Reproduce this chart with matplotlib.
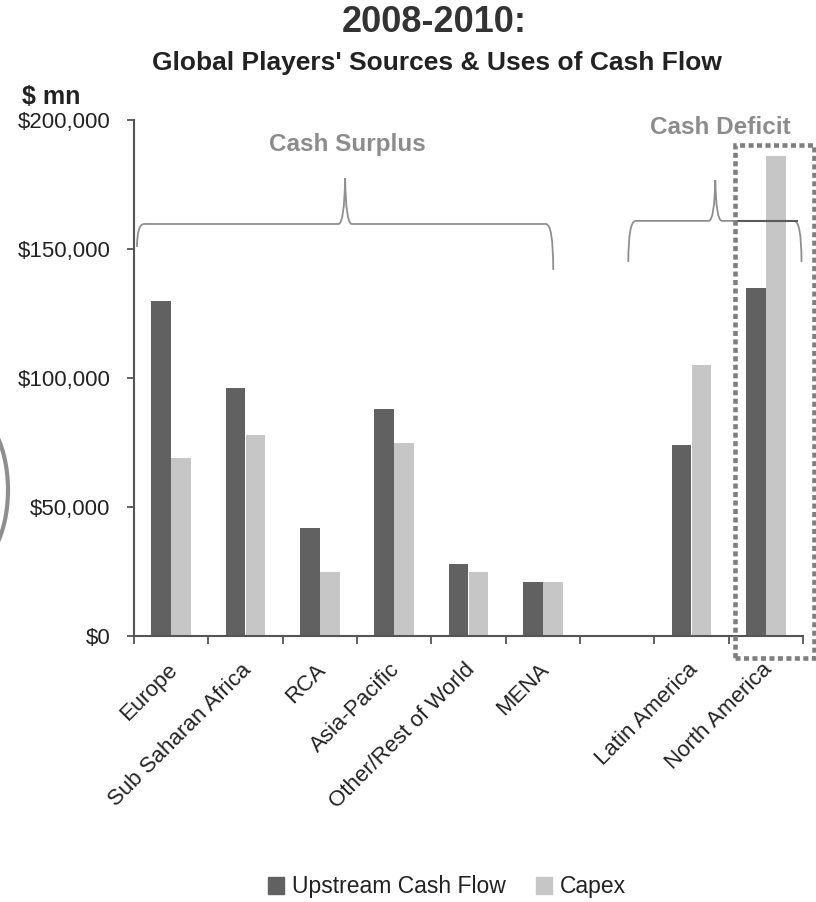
import numpy as np
import matplotlib
matplotlib.use("Agg")
import matplotlib.pyplot as plt
from matplotlib.path import Path
from matplotlib.patches import PathPatch, Rectangle, Patch, Arc
from matplotlib.ticker import FuncFormatter

plt.rcParams["font.family"] = ["Liberation Sans", "DejaVu Sans"]

# Regions, one empty slot separates surplus and deficit groups
regions = ["Europe", "Sub Saharan Africa", "RCA", "Asia-Pacific",
           "Other/Rest of World", "MENA", "", "Latin America", "North America"]
upstream_cash_flow = [130000, 96000, 42000, 88000, 28000, 21000, None, 74000, 135000]
capex = [69000, 78000, 25000, 75000, 25000, 21000, None, 105000, 186000]
y_ticks = [0, 50000, 100000, 150000, 200000]

DARK = "#616161"
LIGHT = "#c6c6c6"
GREY_TXT = "#8c8c8c"
BRACE = "#8f8f8f"

W, H = 816, 902
fig = plt.figure(figsize=(W / 100, H / 100), dpi=100)
ax = fig.add_axes([134 / W, 1 - 636 / H, (803 - 134) / W, (636 - 120) / H])

x = np.arange(len(regions))
bw = 0.265
idx = [i for i, v in enumerate(upstream_cash_flow) if v is not None]
ax.bar(x[idx] - 0.135, [upstream_cash_flow[i] for i in idx], bw, color=DARK, zorder=2)
ax.bar(x[idx] + 0.135, [capex[i] for i in idx], bw, color=LIGHT, zorder=2)

ax.set_xlim(-0.5, len(regions) - 0.5)
ax.set_ylim(0, 200000)
ax.set_yticks(y_ticks)
ax.yaxis.set_major_formatter(FuncFormatter(lambda v, p: f"${v:,.0f}"))
ax.tick_params(axis="y", labelsize=16, colors="#555555", labelcolor="#222222",
               length=5, width=1.3, pad=12)

# ticks between categories, labels at category centres
ax.set_xticks(np.arange(-0.5, len(regions)), minor=False)
ax.set_xticklabels([])
ax.tick_params(axis="x", length=6, width=1.3, colors="#555555")
for i, name in enumerate(regions):
    if name:
        ax.text(i - 0.06, -9000, name, rotation=45, ha="right", va="top",
                rotation_mode="anchor", fontsize=16, color="#222222")

for s in ["top", "right"]:
    ax.spines[s].set_visible(False)
for s in ["left", "bottom"]:
    ax.spines[s].set_color("#555555")
    ax.spines[s].set_linewidth(1.5)


def brace(xl, xp, xr, yh, ypk, yl, yr, dx=0.1, w=0.09):
    verts = [(xl, yl), (xl, yh), (xl + dx, yh),
             (xp - w, yh), (xp - 0.01, yh), (xp, ypk),
             (xp + 0.01, yh), (xp + w, yh),
             (xr - dx, yh), (xr, yh), (xr, yr)]
    codes = [Path.MOVETO, Path.CURVE3, Path.CURVE3,
             Path.LINETO, Path.CURVE3, Path.CURVE3,
             Path.CURVE3, Path.CURVE3,
             Path.LINETO, Path.CURVE3, Path.CURVE3]
    ax.add_patch(PathPatch(Path(verts, codes), fill=False, edgecolor=BRACE,
                           lw=1.3, clip_on=False, zorder=4))


brace(-0.46, 2.34, 5.14, 159700, 177500, 150800, 141900)
brace(6.15, 7.32, 8.48, 160900, 176700, 145000, 145000)
ax.plot([7.63, 8.42], [160900, 160900], color="#5a5a5a", lw=1.5, zorder=5,
        clip_on=False)

ax.text(2.37, 190500, "Cash Surplus", ha="center", va="center",
        fontsize=17.5, fontweight="bold", color=GREY_TXT)
ax.text(7.39, 197000, "Cash Deficit", ha="center", va="center",
        fontsize=17.5, fontweight="bold", color=GREY_TXT)

# dotted highlight around North America
ax.add_patch(Rectangle((7.58, -8500), 1.07, 198800, fill=False,
                       edgecolor="#7f7f7f", lw=3.3, linestyle=(0, (1.1, 0.75)),
                       clip_on=False, zorder=6))

fig.text(434 / W, 1 - 22 / H, "2008-2010:", ha="center", va="center",
         fontsize=26, fontweight="bold", color="#333333")
fig.text(437 / W, 1 - 63 / H, "Global Players' Sources & Uses of Cash Flow",
         ha="center", va="center", fontsize=19, fontweight="bold", color="#222222")
fig.text(22 / W, 1 - 97 / H, "$ mn", ha="left", va="center",
         fontsize=18, fontweight="bold", color="#222222")

handles = [Patch(color=DARK, label="Upstream Cash Flow"),
           Patch(color=LIGHT, label="Capex")]
fig.legend(handles=handles, loc="center", bbox_to_anchor=(447 / W, 1 - 887 / H),
           ncol=2, frameon=False, fontsize=16.5, handlelength=0.7, handleheight=0.7,
           handletextpad=0.35, columnspacing=1.3, labelcolor="#222222")

# faint scan mark on the left edge
fig.add_artist(Arc((-34 / W, 1 - 490 / H), 84 / W, 160 / H, theta1=-65, theta2=65,
                   transform=fig.transFigure, color="#333333", lw=3, alpha=0.55))

fig.savefig("out.png", dpi=100)
